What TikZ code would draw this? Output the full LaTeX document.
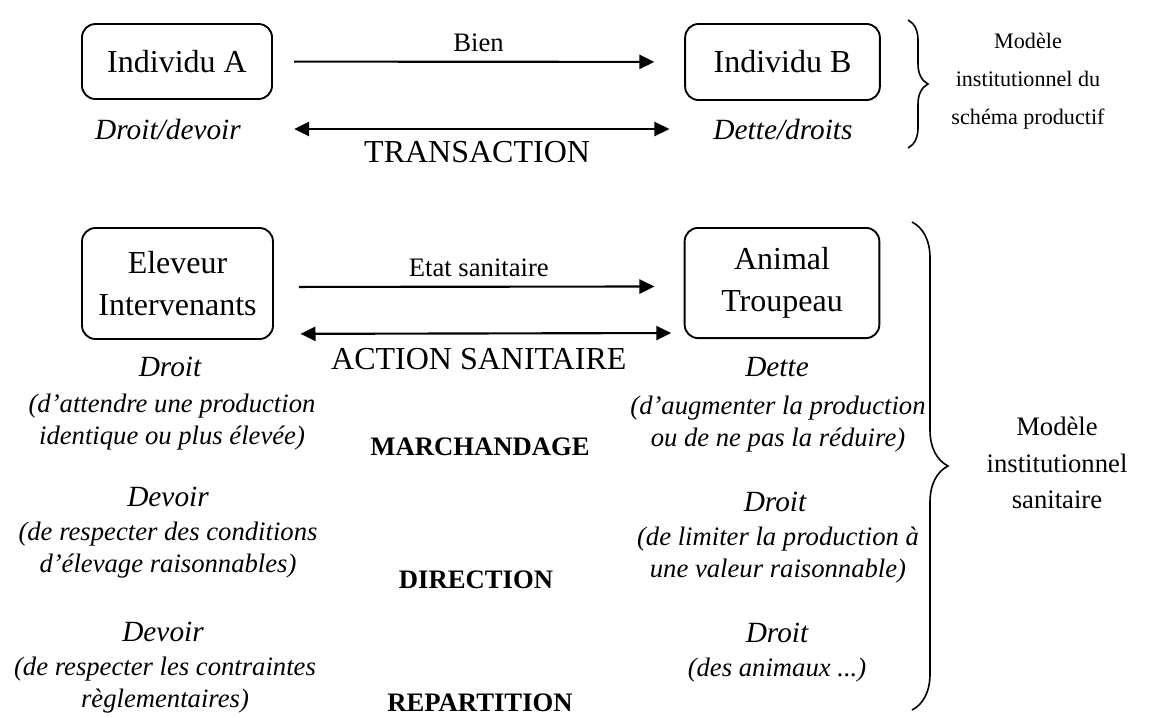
\documentclass[tikz,border=0pt]{standalone}
\usepackage{fontspec}
\setmainfont{Liberation Serif}
\usetikzlibrary{arrows.meta,decorations.pathreplacing}
\tikzstyle{actor}=[draw,rounded corners=5pt,line width=0.7pt,align=center,inner sep=0pt,font=\fontsize{12}{15.75}\selectfont]
\tikzstyle{role}=[font=\fontsize{11}{13}\selectfont\itshape]
\tikzstyle{detail}=[align=center,font=\fontsize{10}{12}\selectfont\itshape]
\tikzstyle{mode}=[font=\fontsize{10}{12}\selectfont\bfseries]
\tikzstyle{flow}=[draw,line width=0.8pt,-{Triangle[length=5.6pt,width=5.3pt]}]
\tikzstyle{exchange}=[draw,line width=0.8pt,{Triangle[length=5.6pt,width=5.3pt]}-{Triangle[length=5.6pt,width=5.3pt]}]
\tikzstyle{weight}=[font=\fontsize{10}{12}\selectfont]
\tikzstyle{bigweight}=[font=\fontsize{12}{14}\selectfont]
\tikzstyle{bracket}=[decorate,line width=0.6pt]

\begin{document}
\begin{tikzpicture}[x=0.375pt,y=-0.375pt]
   \useasboundingbox (0,0) rectangle (1159,717);

   % schema productif
   \node[actor,minimum width=71.25pt,minimum height=28.1pt] (indA) at (177,61.5) {Individu A};
   \node[actor,minimum width=73pt,minimum height=28.5pt] (indB) at (782.5,62) {Individu B};
   \node[role] (droitdev) at (168,129) {Droit/devoir};
   \node[role] (dettedr) at (783,129) {Dette/droits};

   \draw[flow,shorten <=7.9pt,shorten >=11.2pt] (indA) -- node[weight,above] {Bien} (indB);
   \draw[exchange,shorten <=16.5pt,shorten >=13pt] (droitdev) -- node[bigweight,below,yshift=-1pt] {TRANSACTION} (dettedr);

   \coordinate (topA) at (908,20);
   \coordinate (topB) at (908,148);
   \draw[bracket,decoration={brace,amplitude=7.5pt}] (topA) -- (topB);
   \node[align=center,font=\fontsize{8.3}{14.2}\selectfont] (modprod) at (1028,81) {Modèle\\institutionnel du\\schéma productif};

   % schema sanitaire
   \node[actor,minimum width=71.6pt,minimum height=41.6pt] (eleveur) at (177.5,283.5) {Eleveur\\Intervenants};
   \node[actor,minimum width=73pt,minimum height=41.3pt] (animal) at (782,283) {Animal\\Troupeau};

   \draw[flow,shorten <=9.4pt,shorten >=11pt] ([yshift=-1.3pt]eleveur.east) -- node[weight,above] {Etat sanitaire} ([yshift=-1.3pt]animal.west);
   \draw[exchange,shorten <=10pt,shorten >=4.7pt] ([yshift=2.25pt]eleveur.south east) -- node[bigweight,below,yshift=-2pt] {ACTION SANITAIRE} ([yshift=2.25pt]animal.south west);

   \node[role] (droitE) at (170,367) {Droit};
   \node[detail] (droitEtxt) at (172,422.5) {(d’attendre une production\\identique ou plus élevée)};
   \node[role] (devoirE1) at (168,497) {Devoir};
   \node[detail] (devoirE1txt) at (168,550) {(de respecter des conditions\\d’élevage raisonnables)};
   \node[role] (devoirE2) at (163,632) {Devoir};
   \node[detail] (devoirE2txt) at (165,685) {(de respecter les contraintes\\règlementaires)};

   \node[role] (detteA) at (777,367) {Dette};
   \node[detail] (detteAtxt) at (778,424) {(d’augmenter la production\\ou de ne pas la réduire)};
   \node[role] (droitA1) at (775,502) {Droit};
   \node[detail] (droitA1txt) at (778,555) {(de limiter la production à\\une valeur raisonnable)};
   \node[role] (droitA2) at (777,633) {Droit};
   \node[detail] (droitA2txt) at (777,670) {(des animaux ...)};

   \node[mode] (marchand) at (480,447) {MARCHANDAGE};
   \node[mode] (direction) at (476,580) {DIRECTION};
   \node[mode] (repart) at (480,703) {REPARTITION};

   \coordinate (sanA) at (912,222);
   \coordinate (sanB) at (912,710);
   \draw[bracket,decoration={brace,amplitude=13.5pt}] (sanA) -- (sanB);
   \node[align=center,font=\fontsize{10}{13.8}\selectfont] (modsan) at (1057,463) {Modèle\\institutionnel\\sanitaire};

\end{tikzpicture}
\end{document}
